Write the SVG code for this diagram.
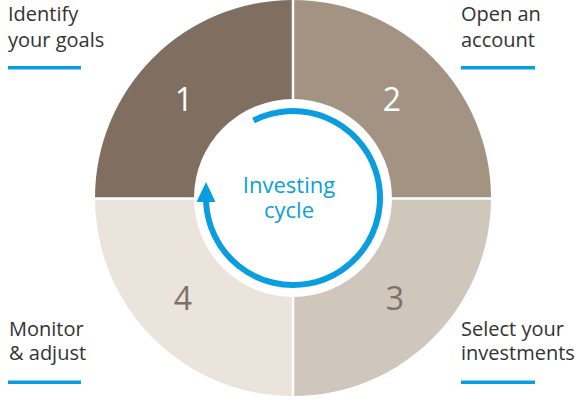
<svg xmlns="http://www.w3.org/2000/svg" width="576" height="400" viewBox="0 0 576 400">
  <style>
    .lbl { font-family: "Open Sans", "Noto Sans", sans-serif; font-size: 20px; fill: #333333; }
    .num { font-family: "Open Sans", "Noto Sans", sans-serif; font-size: 32px; text-anchor: middle; }
    .ul { fill: #0a9ee0; }
    .gap { stroke: #ffffff; stroke-width: 2.5; }
    .center { font-family: "Open Sans", "Noto Sans", sans-serif; font-size: 22px; fill: #0a9ee0; text-anchor: middle; }
  </style>
  <rect width="576" height="400" fill="#ffffff"/>
  <g id="step1">
    <path d="M293,198 L95,198 A198,198 0 0 1 293,0 Z" fill="#806e60"/>
    <text class="num" x="184" y="111" fill="#ffffff">1</text>
    <text class="lbl" x="8" y="21">Identify</text>
    <text class="lbl" x="8" y="47">your goals</text>
    <rect class="ul" x="8" y="66" width="73" height="3.5"/>
  </g>
  <g id="step2">
    <path d="M293,198 L293,0 A198,198 0 0 1 491,198 Z" fill="#a39382"/>
    <text class="num" x="392" y="111" fill="#ffffff">2</text>
    <text class="lbl" x="461" y="21">Open an</text>
    <text class="lbl" x="461" y="47">account</text>
    <rect class="ul" x="461" y="66" width="74" height="3.5"/>
  </g>
  <g id="step3">
    <path d="M293,198 L491,198 A198,198 0 0 1 293,396 Z" fill="#cfc6bc"/>
    <text class="num" x="395" y="310" fill="#7d716a">3</text>
    <text class="lbl" x="461" y="336">Select your</text>
    <text class="lbl" x="461" y="360">investments</text>
    <rect class="ul" x="461" y="380.5" width="74" height="3.5"/>
  </g>
  <g id="step4">
    <path d="M293,198 L293,396 A198,198 0 0 1 95,198 Z" fill="#ebe4dc"/>
    <text class="num" x="183" y="310" fill="#7d716a">4</text>
    <text class="lbl" x="9" y="336">Monitor</text>
    <text class="lbl" x="9" y="360">&amp; adjust</text>
    <rect class="ul" x="8" y="380.5" width="73" height="3.5"/>
  </g>
  <line class="gap" x1="293" y1="0" x2="293" y2="400"/>
  <line class="gap" x1="90" y1="198.5" x2="500" y2="198.5"/>
  <g id="hub">
    <circle cx="293" cy="198" r="99" fill="#ffffff"/>
    <text class="center" x="289" y="193">Investing</text>
    <text class="center" x="289" y="218">cycle</text>
  </g>
  <g id="connectors">
    <path d="M253.5,120.5 A87,87 0 1 1 206.05,201" fill="none" stroke="#0a9ee0" stroke-width="6"/>
    <polygon points="206,182 196.5,202 215.5,202" fill="#0a9ee0"/>
  </g>
</svg>
